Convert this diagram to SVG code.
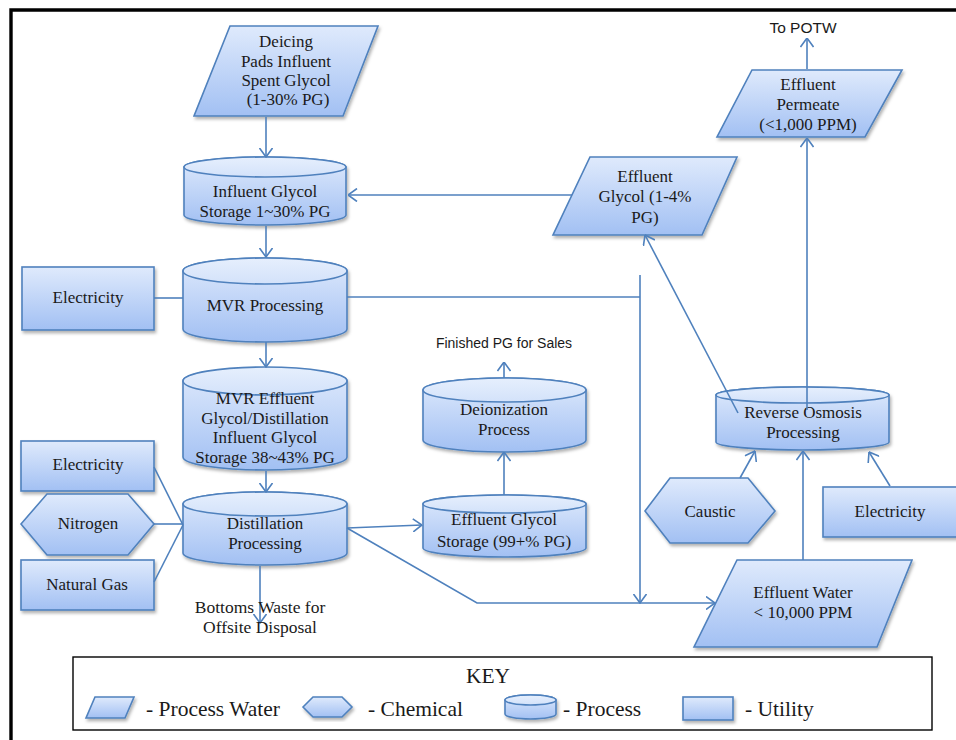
<svg xmlns="http://www.w3.org/2000/svg" width="956" height="740" viewBox="0 0 956 740">
  <defs>
    <linearGradient id="fillBlue" x1="0" y1="0" x2="0" y2="1">
      <stop offset="0" stop-color="#dfeafc"/>
      <stop offset="1" stop-color="#a2c0f3"/>
    </linearGradient>
    <linearGradient id="capBlue" x1="0" y1="0" x2="0" y2="1">
      <stop offset="0" stop-color="#e6effd"/>
      <stop offset="1" stop-color="#d3e2fa"/>
    </linearGradient>
    <filter id="shadow" x="-10%" y="-10%" width="125%" height="135%">
      <feDropShadow dx="1.5" dy="2.5" stdDeviation="1.6" flood-color="#000" flood-opacity="0.3"/>
    </filter>
    <marker id="arrow" viewBox="0 0 10 14" refX="9.5" refY="7" markerWidth="10" markerHeight="14" markerUnits="userSpaceOnUse" orient="auto">
      <path d="M0.5,0.5 L9.5,7 L0.5,13.5" fill="none" stroke="#4f81bd" stroke-width="1.6"/>
    </marker>
  </defs>
  <style>
    .shape { fill: url(#fillBlue); stroke: #4f81bd; stroke-width: 1.6; filter: url(#shadow); }
    .cap { fill: url(#capBlue); stroke: #4f81bd; stroke-width: 1.6; }
    .lbl { font-family: "Liberation Serif", "DejaVu Serif", serif; font-size: 17px; fill: #1a1a1a; text-anchor: middle; }
    .note { font-family: "Liberation Sans", "Noto Sans", sans-serif; font-size: 14px; fill: #1a1a1a; text-anchor: middle; }
    .key { font-family: "Liberation Serif", "DejaVu Serif", serif; font-size: 21.5px; fill: #1a1a1a; }
    .conn { fill: none; stroke: #4f81bd; stroke-width: 1.6; }
    .arr { marker-end: url(#arrow); }
    .frame { fill: none; stroke: #000; stroke-width: 3.4; }
  </style>

  <rect width="956" height="740" fill="#fff"/>
  <!-- outer frame -->
  <path class="frame" d="M11,742 L11,10 L958,10"/>

  <!-- nodes -->
  <g id="deicing-influent">
    <polygon class="shape" points="230,26 378,26 343,116 194,116"/>
    <text class="lbl" x="286" y="47">Deicing</text>
    <text class="lbl" x="286" y="67">Pads Influent</text>
    <text class="lbl" x="286" y="86">Spent Glycol</text>
    <text class="lbl" x="288" y="105">(1-30% PG)</text>
  </g>

  <g id="influent-glycol-storage">
    <path class="shape" d="M184,167 L184,215 A81,10 0 0 0 346,215 L346,167 A81,10 0 0 0 184,167 Z"/>
    <ellipse class="cap" cx="265" cy="167" rx="81" ry="10"/>
    <text class="lbl" x="265" y="197">Influent Glycol</text>
    <text class="lbl" x="265" y="217">Storage 1~30% PG</text>
  </g>

  <g id="mvr-processing">
    <path class="shape" d="M183,271 L183,329 A82,13 0 0 0 347,329 L347,271 A82,13 0 0 0 183,271 Z"/>
    <ellipse class="cap" cx="265" cy="271" rx="82" ry="13"/>
    <text class="lbl" x="265" y="311">MVR Processing</text>
  </g>

  <g id="electricity-mvr">
    <rect class="shape" x="22" y="267" width="132" height="63"/>
    <text class="lbl" x="88" y="303">Electricity</text>
  </g>

  <g id="mvr-effluent-storage">
    <path class="shape" d="M183,381 L183,457 A82,13 0 0 0 347,457 L347,381 A82,13 0 0 0 183,381 Z"/>
    <ellipse class="cap" cx="265" cy="381" rx="82" ry="14"/>
    <text class="lbl" x="265" y="404">MVR Effluent</text>
    <text class="lbl" x="265" y="424">Glycol/Distillation</text>
    <text class="lbl" x="265" y="443">Influent Glycol</text>
    <text class="lbl" x="265" y="463">Storage 38~43% PG</text>
  </g>

  <g id="distillation-processing">
    <path class="shape" d="M183,504 L183,553 A82,12 0 0 0 347,553 L347,504 A82,12 0 0 0 183,504 Z"/>
    <ellipse class="cap" cx="265" cy="504" rx="82" ry="12"/>
    <text class="lbl" x="265" y="529">Distillation</text>
    <text class="lbl" x="265" y="549">Processing</text>
  </g>

  <g id="electricity-distillation">
    <rect class="shape" x="21" y="441" width="133" height="50"/>
    <text class="lbl" x="88" y="470">Electricity</text>
  </g>

  <g id="nitrogen">
    <polygon class="shape" points="21,524 47,494 128,494 154,524 128,555 47,555"/>
    <text class="lbl" x="88" y="529">Nitrogen</text>
  </g>

  <g id="natural-gas">
    <rect class="shape" x="21" y="560" width="133" height="50"/>
    <text class="lbl" x="87" y="590">Natural Gas</text>
  </g>

  <g id="effluent-glycol-storage">
    <path class="shape" d="M423,504 L423,548 A81.5,9 0 0 0 586,548 L586,504 A81.5,9 0 0 0 423,504 Z"/>
    <ellipse class="cap" cx="504.5" cy="504" rx="81.5" ry="9"/>
    <text class="lbl" x="504" y="525">Effluent Glycol</text>
    <text class="lbl" x="504" y="547">Storage (99+% PG)</text>
  </g>

  <g id="deionization-process">
    <path class="shape" d="M423,390 L423,440 A81.5,12 0 0 0 586,440 L586,390 A81.5,12 0 0 0 423,390 Z"/>
    <ellipse class="cap" cx="504.5" cy="390" rx="81.5" ry="12"/>
    <text class="lbl" x="504" y="415">Deionization</text>
    <text class="lbl" x="504" y="435">Process</text>
  </g>

  <g id="effluent-glycol-low">
    <polygon class="shape" points="590,157 737,157 702,235 553,235"/>
    <text class="lbl" x="645" y="182">Effluent</text>
    <text class="lbl" x="645" y="202">Glycol (1-4%</text>
    <text class="lbl" x="645" y="223">PG)</text>
  </g>

  <g id="effluent-permeate">
    <polygon class="shape" points="752,70 902,70 865,137 717,137"/>
    <text class="lbl" x="808" y="90">Effluent</text>
    <text class="lbl" x="808" y="110">Permeate</text>
    <text class="lbl" x="808" y="130">(&lt;1,000 PPM)</text>
  </g>

  <g id="reverse-osmosis">
    <path class="shape" d="M716,395 L716,442 A86.5,8 0 0 0 889,442 L889,395 A86.5,8 0 0 0 716,395 Z"/>
    <ellipse class="cap" cx="802.5" cy="395" rx="86.5" ry="8"/>
    <text class="lbl" x="803" y="418">Reverse Osmosis</text>
    <text class="lbl" x="803" y="438">Processing</text>
  </g>

  <g id="caustic">
    <polygon class="shape" points="645,511 670,478 748,478 775,511 748,543 670,543"/>
    <text class="lbl" x="710" y="517">Caustic</text>
  </g>

  <g id="electricity-ro">
    <rect class="shape" x="823" y="487" width="140" height="50"/>
    <text class="lbl" x="890" y="517">Electricity</text>
  </g>

  <g id="effluent-water">
    <polygon class="shape" points="737,560 912,560 877,647 694,647"/>
    <text class="lbl" x="803" y="598">Effluent Water</text>
    <text class="lbl" x="803" y="618">&lt; 10,000 PPM</text>
  </g>

  <!-- connectors -->
  <g id="connectors">
    <path class="conn arr" d="M266,117 L266,157"/>
    <path class="conn arr" d="M572,195 L348,195"/>
    <path class="conn arr" d="M266,226 L266,257"/>
    <path class="conn" d="M154,298 L183,298"/>
    <path class="conn" d="M347,297 L640,297"/>
    <path class="conn arr" d="M640,275 L640,603"/>
    <path class="conn arr" d="M266,342 L266,367"/>
    <path class="conn arr" d="M266,471 L266,492"/>
    <path class="conn" d="M154,467 L183,525"/>
    <path class="conn" d="M154,524 L183,524"/>
    <path class="conn" d="M154,582 L183,525"/>
    <path class="conn arr" d="M260,566 L260,623"/>
    <path class="conn arr" d="M347,528 L422,525"/>
    <path class="conn arr" d="M347,528 L477,603 L715,603"/>
    <path class="conn arr" d="M504,495 L504,452"/>
    <path class="conn arr" d="M504,378 L504,362"/>
    <path class="conn arr" d="M738,413 L645,235"/>
    <path class="conn arr" d="M807,410 L807,138"/>
    <path class="conn arr" d="M807,69 L807,38"/>
    <path class="conn arr" d="M740,478 L755,451"/>
    <path class="conn arr" d="M890,486 L869,452"/>
    <path class="conn arr" d="M803,560 L803,451"/>
  </g>

  <!-- free labels -->
  <g id="labels">
    <text class="note" x="803" y="33" style="font-size:15.5px">To POTW</text>
    <text class="note" x="504" y="348">Finished PG for Sales</text>
    <text class="lbl" x="260" y="613" style="font-size:17.5px">Bottoms Waste for</text>
    <text class="lbl" x="260" y="633" style="font-size:17.5px">Offsite Disposal</text>
  </g>

  <!-- key -->
  <g id="key">
    <rect x="73" y="657" width="859" height="73" fill="#fff" stroke="#000" stroke-width="1.4"/>
    <text class="key" x="488" y="683" text-anchor="middle">KEY</text>
    <polygon class="shape" points="95,697 134,697 125,718 86,718"/>
    <text class="key" x="146" y="716">- Process Water</text>
    <polygon class="shape" points="303,707 313,697 342,697 352,707 342,717 313,717"/>
    <text class="key" x="368" y="716">- Chemical</text>
    <path class="shape" d="M505,700 L505,714 A25.5,5 0 0 0 556,714 L556,700 A25.5,5 0 0 0 505,700 Z"/>
    <ellipse class="cap" cx="530.5" cy="700" rx="25.5" ry="5"/>
    <text class="key" x="563" y="716">- Process</text>
    <rect class="shape" x="683" y="697" width="50" height="23"/>
    <text class="key" x="745" y="716">- Utility</text>
  </g>
</svg>
